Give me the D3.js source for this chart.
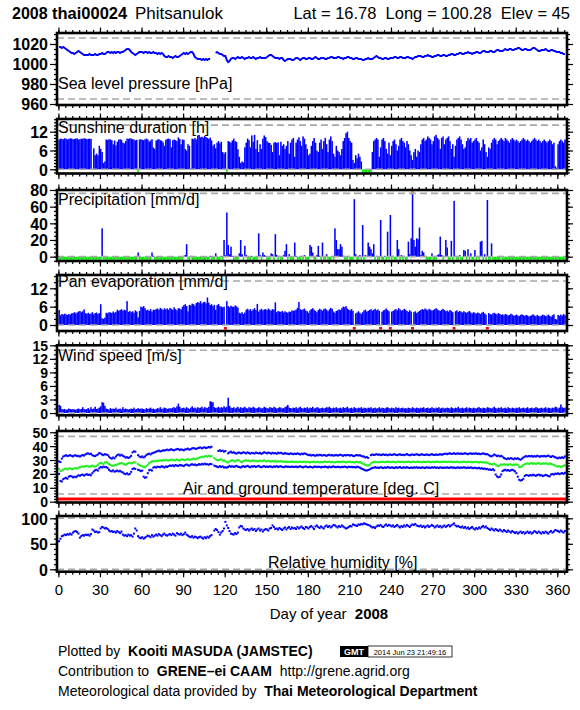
<!DOCTYPE html>
<html><head><meta charset="utf-8">
<script src="https://cdn.jsdelivr.net/npm/d3@7"></script>
<style>body{margin:0;background:#fff}svg text{font-family:"Liberation Sans",Arial,Helvetica,sans-serif}</style>
</head><body><svg id="c" width="580" height="710"></svg>
<script>
// ---------------- DATA (day of year 1..366, 2008) ----------------
const xTicks = [0,30,60,90,120,150,180,210,240,270,300,330,360];

const pressure = [
1017,1017,1016,1017,1016,1015,1014,1013,1012,1011,
1011,1010,1011,1012,1013,1012,1011,1010,1009,1009,
1009,1009,1010,1009,1009,1009,1010,1009,1009,1010,
1010,1011,1010,1010,1011,1012,1012,1011,1012,1011,
1012,1011,1012,1012,1011,1012,1012,1013,1014,1015,
1015,1014,1012,1011,1010,1009,1010,1011,1012,1012,
1012,1011,1012,1012,1011,1012,1011,1011,1012,1011,
1011,1010,1011,1010,1011,1010,1008,1007,1007,1008,
1007,1007,1006,1007,1008,1007,1007,1008,1009,1010,
1011,1010,1011,1010,1011,1012,1012,1010,1007,1006,
1005,1005,1005,1004,1005,1004,1005,1004,1005,1005,
null,null,null,1011,1012,1011,1010,1010,1009,1008,
1008,1004,1002,1003,1005,1006,1006,1005,1006,1007,
1006,1006,1007,1006,1005,1006,1006,1007,1006,1006,
1007,1006,1005,1006,1006,1007,1006,1006,1006,1006,
1007,1008,1009,1009,1008,1007,1006,1006,1006,1005,
1006,1006,1004,1003,1004,1005,1005,1005,1004,1004,
1005,1006,1006,1005,1004,1005,1006,1006,1005,1005,
1006,1006,1005,1005,1006,1007,1006,1005,1005,1006,
1006,1006,1005,1005,1006,1006,1007,1007,1006,1006,
1006,1007,1007,1006,1006,1005,1006,1006,1007,1007,
1006,1006,1005,1005,1006,1006,1005,1005,1005,1004,
1004,1005,1005,1006,1005,1005,1005,1006,1007,1008,
1007,1006,1006,1005,1005,1006,1006,1005,1005,1006,
1006,1006,1007,1007,1006,1006,1007,1007,1006,1006,
1006,1007,1007,1006,1006,1005,1006,1007,1007,1008,
1008,1008,1007,1007,1008,1008,1009,1008,1008,1007,
1007,1008,1008,1009,1009,1008,1008,1009,1009,1008,
1008,1009,1009,1010,1010,1009,1009,1010,1010,1011,
1011,1010,1010,1011,1011,1012,1011,1011,1010,1011,
1011,1012,1012,1011,1011,1012,1013,1013,1012,1012,
1012,1013,1013,1012,1012,1013,1014,1014,1013,1013,
1013,1014,1015,1014,1014,1015,1015,1014,1014,1015,
1015,1016,1016,1015,1014,1014,1015,1015,1014,1014,
1014,1015,1016,1016,1015,1014,1013,1013,1014,1014,
1014,1015,1014,1013,1013,1014,1014,1013,1013,1012,
1012,1012,1011,1011,1010,1010];

const sunshine = [
9.5,9.8,9.7,9.6,9.9,9.8,9.5,9.7,9.9,9.8,
9.6,9.7,9.8,9.9,9.5,9.6,9.8,9.7,9.9,9.8,
9.6,9.7,9.8,9.7,null,6.7,4.5,5.0,4.5,7.5,
6.5,5.5,2.0,2.5,9.5,9.4,9.6,9.5,9.3,8.0,
9.2,7.6,8.8,9.5,9.6,9.4,8.5,8.3,9.0,9.8,
9.7,9.9,9.8,9.6,9.5,9.2,9.4,0,9.5,9.6,
9.4,9.3,9.6,9.8,9.5,8.8,9.2,9.6,7.0,6.5,
9.2,9.5,9.6,9.3,9.1,8.6,7.5,9.4,9.7,9.8,
9.6,7.0,9.3,9.5,9.3,9.0,10.2,9.7,8.0,9.5,
9.4,6.5,6.0,8.0,7.5,0.3,9.8,9.6,10.0,9.5,
10.8,11.0,10.2,10.4,10.1,10.6,10.3,10.0,9.7,10.1,
9.2,7.5,8.0,6.7,8.5,9.0,8.3,8.8,5.5,5.0,
5.5,0,9.0,8.8,8.5,9.2,9.8,9.0,8.7,6.4,
4.0,2.0,2.5,2.2,7.0,8.5,9.8,9.3,7.0,10.8,
8.8,11.0,6.5,9.3,5.5,8.0,6.5,9.8,10.8,10.3,
9.0,8.5,8.4,7.8,5.5,8.5,8.7,8.4,8.6,4.5,
8.8,7.5,8.0,6.5,7.5,9.0,5.0,8.5,9.5,10.0,
4.0,8.5,9.5,10.2,9.0,7.5,10.5,9.8,8.0,6.5,
4.5,5.0,7.5,9.0,10.0,8.5,6.0,5.5,8.5,9.5,
6.5,9.0,10.0,8.0,5.5,9.5,10.5,9.0,5.0,4.0,
7.5,6.0,5.5,4.5,6.5,9.0,10.0,11.5,12.0,10.0,
9.0,8.5,3.0,2.0,4.5,3.5,5.0,4.0,2.5,0,
0,0,0,0,0,0,5.5,9.0,9.5,10.0,
9.5,4.0,7.0,9.5,10.0,9.0,6.5,5.0,8.5,4.5,
7.5,9.0,9.5,8.0,6.0,7.5,9.5,10.0,9.0,8.5,
7.0,9.0,8.0,6.0,4.5,3.0,5.5,6.5,4.0,6.0,
5.5,8.0,9.5,10.0,9.0,9.5,10.5,10.0,9.5,8.0,
9.0,10.5,11.0,10.0,9.5,6.5,10.0,10.5,8.0,9.5,
10.0,10.5,9.0,6.5,8.0,4.0,7.5,9.5,10.0,10.5,
9.5,8.0,6.5,7.0,9.0,10.0,9.5,10.0,8.5,9.0,
9.5,10.0,9.0,8.5,6.0,7.0,9.5,8.0,5.5,4.0,
7.0,6.5,8.5,9.5,10.0,9.5,8.0,9.0,9.5,10.0,
9.5,9.0,10.0,9.5,9.0,8.5,9.5,10.0,9.5,9.0,
9.5,9.0,8.5,9.0,9.5,10.0,9.5,9.0,9.5,9.0,
8.5,9.0,9.5,10.0,9.5,9.0,9.5,9.0,8.5,9.0,
9.5,9.0,8.5,9.0,9.5,9.0,8.0,8.5,1.0,0.5,
8.0,9.0,9.5,9.0,8.5,9.5];

// rainy days only (all other days: 0 mm)
const rainDays = [32,58,68,69,91,92,93,96,110,114,118,120,121,122,123,124,125,126,131,132,133,135,136,140,145,146,148,149,150,154,155,157,158,160,163,164,165,
167,171,172,176,178,182,183,184,187,188,189,191,194,198,200,201,202,203,204,205,206,210,214,215,218,220,222,223,224,225,226,227,228,230,233,236,238,240,242,245,246,248,250,253,254,255,256,257,258,259,260,261,262,263,264,265,270,274,275,276,277,279,280,281,284,286,287,290,293,294,296,298,301,303,305,306,308,310,313,320];
const rainMm = [34,5,5,1,1,2,15,1,1,4,1,20,2,53,14,3,12,1,4,20,3,13,2,1,28,2,5,2,1,4,3,27,2,1,2,7,15,
3,17,1,1,2,14,12,5,2,13,1,17,3,1,34,20,9,9,15,12,1,1,69,3,2,38,2,1,17,12,9,4,15,1,44,1,30,50,1,20,9,2,1,18,3,22,90,20,12,22,21,35,2,7,5,1,4,2,3,24,2,1,20,11,19,67,1,2,8,7,9,4,8,1,18,19,3,68,16,1];

const evaporation = [
4.9,3.2,3.6,3.4,3.7,3.5,3.3,3.6,3.4,3.8,
3.9,4.2,3.8,4.1,4.4,4.6,4.2,4.5,5.1,3.9,
3.7,4.0,3.6,3.8,4.2,3.5,3.9,4.1,3.6,3.9,
6.8,2.2,2.0,2.4,4.0,3.8,4.2,4.1,3.9,4.4,
4.0,4.3,5.0,4.6,4.9,5.2,4.7,5.0,4.8,7.8,
4.3,4.6,4.2,4.5,4.0,4.8,4.4,2.5,4.6,6.0,
5.8,6.2,5.5,4.8,5.0,4.6,5.2,4.4,5.0,4.9,
5.2,5.4,5.0,5.6,5.3,4.9,5.5,5.1,5.4,5.0,
5.6,5.3,5.0,5.8,5.2,4.8,5.5,5.4,5.1,6.0,
6.5,6.8,6.2,4.5,6.6,6.4,7.0,6.8,6.3,7.2,
7.5,7.2,7.8,7.0,7.4,7.6,7.1,9.0,7.3,6.5,
6.8,6.2,6.6,5.0,6.5,6.9,6.2,6.0,5.8,6.0,
null,7.8,6.2,5.8,6.3,6.0,5.9,6.4,6.1,5.7,
4.0,3.8,4.2,3.6,4.1,5.0,5.3,4.8,5.2,4.6,
5.1,5.5,4.9,6.9,4.4,5.0,5.3,4.8,5.1,5.2,
4.9,5.4,5.0,4.7,5.2,5.0,7.4,4.2,4.6,4.4,
4.3,4.6,4.1,4.5,4.2,4.0,4.4,4.3,4.8,4.6,
4.8,5.0,5.6,7.5,5.2,4.9,5.1,5.4,4.7,4.5,
4.0,4.8,5.2,5.5,5.0,4.6,4.2,4.9,5.3,5.0,
4.7,5.2,5.4,5.0,4.5,5.1,5.6,5.3,4.4,4.0,
4.6,4.8,5.1,4.9,5.5,6.0,5.8,6.2,5.4,5.0,
4.8,5.2,4.6,null,3.8,4.1,4.5,4.0,3.6,4.2,
4.8,5.0,4.4,4.6,4.9,5.2,4.7,5.0,5.3,4.8,
5.1,4.6,null,4.3,4.8,5.0,5.4,4.9,4.5,null,
4.4,4.6,5.0,5.2,4.8,5.5,5.1,4.7,4.9,5.3,
5.0,4.6,4.3,4.8,4.4,null,4.2,4.5,3.9,4.3,
4.6,4.9,5.2,5.0,5.4,5.1,4.8,5.3,5.0,4.7,
4.9,5.2,5.5,5.1,4.8,4.6,5.0,5.3,4.9,4.5,
4.7,4.4,4.9,4.6,4.2,null,4.5,4.8,4.3,4.6,
4.4,4.1,4.5,4.2,4.0,4.3,4.6,4.1,3.8,4.2,
4.0,3.7,4.1,3.9,3.6,4.0,4.3,3.8,3.4,null,
3.9,3.6,3.4,3.8,4.0,3.7,3.5,3.9,3.6,3.3,
3.5,3.2,3.6,3.4,3.1,3.3,3.7,3.4,3.0,3.2,
3.4,3.1,2.9,3.3,3.5,3.2,3.0,3.3,3.1,2.8,
3.0,3.2,3.5,3.1,2.9,3.3,3.0,2.8,3.1,3.4,
3.2,2.9,3.1,3.4,3.0,2.7,3.2,3.5,2.0,1.8,
3.3,3.0,3.4,3.1,3.6,3.2];

const wind = [
1.8,1.6,0.9,0.8,0.9,0.7,0.8,1.0,0.9,0.8,
0.9,0.8,0.7,0.9,1.0,0.8,0.9,1.3,0.9,0.8,
0.9,1.1,0.8,1.3,0.9,1.0,1.4,0.9,1.0,1.2,
1.5,2.4,2.3,1.6,1.0,0.9,0.8,1.1,0.9,1.0,
0.9,1.2,0.8,0.9,1.0,0.8,1.3,0.9,1.0,0.9,
0.8,0.9,1.0,0.9,1.2,0.8,0.9,1.1,0.9,1.0,
1.0,0.9,0.8,1.1,0.9,1.0,1.2,0.9,1.0,0.8,
0.9,1.1,1.0,1.3,0.9,1.0,1.2,1.1,0.9,1.0,
1.1,1.0,1.2,1.3,1.1,1.5,2.1,1.4,1.0,1.1,
1.2,1.0,1.3,1.1,0.9,1.2,1.5,1.1,1.2,1.0,
1.3,1.1,1.2,1.4,1.0,1.3,1.2,1.1,1.4,2.6,
2.5,2.4,1.3,1.1,1.2,1.4,1.1,1.3,1.2,1.5,
1.2,1.4,3.4,1.6,1.2,1.1,1.3,1.0,1.2,1.4,
1.0,1.3,1.1,1.2,1.4,1.1,1.0,1.3,1.2,1.1,
1.4,1.2,1.0,1.1,1.3,1.2,1.0,1.1,1.4,1.2,
1.1,1.0,1.3,1.2,1.1,1.4,1.2,1.0,1.1,1.3,
1.2,1.0,1.1,1.3,1.5,1.8,1.2,1.1,1.0,1.2,
1.1,1.3,1.0,1.2,1.4,1.1,1.0,1.2,1.1,1.3,
1.0,1.2,1.1,1.4,1.0,1.1,1.3,1.2,1.0,1.1,
1.2,1.0,1.1,1.3,1.2,1.4,1.1,1.0,1.2,1.1,
1.3,1.0,1.1,1.2,1.0,1.3,1.1,1.2,1.4,1.0,
1.1,1.2,1.0,1.3,1.1,1.0,1.2,1.1,1.3,1.0,
1.2,1.1,1.0,1.2,1.1,1.3,1.0,1.1,1.2,1.0,
1.1,1.3,1.0,1.2,1.1,1.0,1.2,1.3,1.1,1.0,
1.2,1.1,1.0,1.3,1.1,1.2,1.0,1.1,1.2,1.0,
1.1,1.0,1.2,1.1,1.0,1.3,1.1,1.0,1.2,1.1,
1.0,1.2,1.1,1.3,1.0,1.1,1.2,1.0,1.1,1.3,
1.1,1.0,1.2,1.1,1.3,1.0,1.1,1.2,1.0,1.1,
1.2,1.1,1.0,1.3,1.1,1.0,1.2,1.1,1.4,1.0,
1.1,1.2,1.0,1.1,1.3,1.0,1.2,1.1,1.0,1.2,
1.1,1.0,1.2,1.3,1.1,1.0,1.2,1.1,1.0,1.3,
1.2,1.1,1.0,1.2,1.4,1.1,1.0,1.2,1.1,1.3,
1.0,1.1,1.2,1.0,1.3,1.1,1.0,1.2,1.1,1.0,
1.2,1.1,1.3,1.0,1.1,1.2,1.0,1.1,1.3,1.0,
1.1,1.2,1.0,1.1,1.3,1.2,1.0,1.1,1.2,1.0,
1.1,1.3,1.0,1.2,1.1,1.0,1.2,1.1,1.4,1.3,
1.0,1.2,1.9,1.3,1.1,1.2];

const tmax = [
29.0,28.5,31.0,32.5,33.0,33.4,32.8,33.2,33.5,33.0,
32.6,33.2,33.4,32.8,33.0,32.5,33.1,33.6,33.2,34.0,
34.6,34.8,34.2,34.5,33.5,33.0,32.8,33.4,34.0,35.0,
34.6,34.0,33.5,34.2,34.0,33.6,32.5,31.5,31.0,31.8,
31.2,32.5,33.5,34.0,33.2,33.8,33.0,32.5,31.8,32.0,
31.5,32.0,33.0,35.5,36.2,36.0,null,33.5,32.5,32.0,
32.6,31.8,32.5,33.5,34.2,34.6,34.0,34.8,35.2,35.5,
36.0,36.4,36.8,36.2,36.5,37.0,36.8,37.2,37.5,37.0,
37.4,37.8,37.2,37.0,37.5,37.8,38.0,37.2,37.6,37.4,
37.0,37.6,37.8,38.2,37.5,37.8,38.4,38.6,38.2,38.0,
38.5,38.8,39.0,38.4,38.8,39.2,38.6,38.9,39.4,39.0,
39.6,null,null,null,null,36.5,37.0,36.4,36.8,36.0,
36.5,null,34.8,35.5,36.0,35.2,35.6,35.0,34.6,35.2,
35.4,34.8,35.0,35.6,35.2,34.8,35.5,35.0,34.6,35.2,
35.0,34.6,35.4,35.0,34.8,35.2,34.4,35.0,35.6,35.2,
34.8,35.4,35.0,34.6,35.2,34.8,35.0,34.5,35.3,34.9,
35.2,34.8,34.4,35.0,34.6,34.5,34.2,34.8,34.5,34.2,
34.6,34.3,34.8,34.4,34.0,34.6,34.2,34.8,34.4,34.0,
33.5,33.8,33.2,33.6,33.4,33.0,33.7,33.3,33.8,33.5,
33.2,33.6,33.4,33.0,33.5,33.8,33.3,33.6,33.1,33.4,
33.7,33.2,33.5,33.8,33.4,33.0,33.6,33.3,33.7,33.5,
33.2,33.6,33.0,32.8,33.4,33.6,33.2,33.5,33.0,32.6,
32.5,31.8,32.2,31.5,null,33.5,34.0,33.6,33.8,34.2,
33.8,34.0,33.5,33.8,34.1,33.6,33.9,33.4,33.8,34.0,
33.6,33.9,34.2,33.7,33.5,33.9,34.1,33.6,33.8,33.5,
33.9,34.2,33.7,33.4,33.8,34.0,33.6,33.9,34.2,33.8,
33.5,33.9,34.1,33.7,33.6,34.0,33.8,33.5,33.9,34.2,
33.8,33.6,34.0,33.7,33.9,34.2,33.8,34.1,34.4,34.6,
34.2,34.6,34.8,34.4,34.5,34.9,34.3,34.6,34.8,34.4,
34.7,34.3,34.6,34.9,34.5,34.2,34.6,34.8,34.4,34.7,
34.5,34.8,34.3,34.6,34.2,34.5,34.8,34.4,34.1,34.3,
33.5,33.0,32.6,33.2,34.0,33.4,32.8,33.2,32.6,33.0,
32.4,31.5,31.0,30.6,31.2,30.8,31.4,31.0,30.5,31.2,
30.8,31.3,30.6,30.2,31.0,31.8,32.4,32.8,32.5,32.9,
32.6,33.0,32.4,32.8,32.5,33.1,32.7,32.4,32.9,32.6,
33.0,32.5,32.8,33.2,32.6,32.2,32.9,32.4,32.0,31.6,
31.2,31.8,31.4,32.0,31.5,32.6];

const tmean = [
23.5,22.0,22.5,23.0,23.6,23.8,23.2,23.9,24.0,23.5,
23.4,24.0,24.2,23.8,24.5,24.8,25.0,25.4,25.2,25.6,
25.8,25.4,25.0,25.6,26.0,25.5,25.2,25.8,26.5,27.5,
28.0,27.6,27.0,28.2,28.5,28.0,27.2,26.5,26.0,25.8,
26.2,26.5,26.8,27.2,27.6,27.8,27.5,27.0,26.5,27.2,
27.8,28.0,27.5,27.8,28.4,28.2,null,27.0,26.5,25.8,
25.5,25.0,24.8,25.6,26.5,27.8,28.4,29.0,29.3,29.0,
29.5,29.2,29.6,29.8,29.4,30.0,29.6,30.2,29.8,29.6,
30.0,30.3,29.8,30.1,29.7,30.4,30.0,29.6,30.2,30.5,
30.0,29.8,30.3,30.6,30.1,30.4,30.8,31.0,30.5,30.9,
31.2,31.6,32.0,32.4,32.0,32.6,32.8,32.4,33.0,32.6,
32.8,null,31.5,30.5,30.0,29.8,30.2,30.6,29.5,29.8,
29.2,28.5,28.2,29.0,29.5,29.8,29.4,29.0,29.6,30.0,
29.6,28.8,28.4,29.2,29.6,29.8,29.4,29.6,29.0,29.4,
29.8,29.2,29.5,29.0,29.3,29.6,29.1,29.4,29.8,29.2,
29.0,29.5,29.2,28.8,29.3,29.0,29.4,28.7,29.1,28.9,
29.2,28.8,29.0,28.6,28.9,28.5,28.8,28.6,29.0,28.7,
28.5,28.8,28.4,28.7,28.9,28.5,28.6,28.8,28.4,28.7,
28.6,28.3,28.7,28.5,28.9,28.4,28.6,28.8,28.3,28.6,
28.4,28.7,28.9,28.5,28.6,28.8,28.4,28.7,28.5,28.3,
28.6,28.8,28.4,28.7,28.5,28.9,28.6,28.3,28.7,28.5,
28.8,28.4,28.6,28.2,28.5,28.7,28.3,28.6,28.0,27.5,
27.0,26.5,26.2,26.0,26.4,27.5,28.2,28.5,28.7,28.4,
28.6,28.3,28.7,28.5,28.8,28.4,28.6,28.9,28.5,28.7,
28.4,28.8,28.6,28.3,28.7,28.9,28.5,28.6,28.8,28.4,
28.7,28.5,28.9,28.6,28.4,28.7,28.8,28.5,28.6,28.9,
28.5,28.7,28.4,28.8,28.6,28.5,28.9,28.7,28.4,28.6,
28.8,28.5,28.7,28.9,28.6,28.4,28.8,28.6,28.9,28.7,
28.5,28.8,28.6,28.9,28.4,28.7,28.5,28.8,28.6,28.3,
28.7,28.5,28.9,28.6,28.4,28.8,28.5,28.7,28.3,28.6,
28.4,28.7,28.5,28.2,28.6,28.3,28.5,28.1,28.4,28.0,
27.5,27.2,26.8,27.0,27.4,26.6,26.0,25.5,26.2,26.8,
26.5,27.0,26.6,26.8,26.4,27.0,26.7,26.3,26.8,26.5,
26.9,26.4,25.0,24.8,25.5,26.4,27.0,27.3,27.6,27.2,
27.5,27.8,27.3,27.6,27.2,27.5,27.8,27.4,27.1,27.6,
27.3,27.7,27.4,27.0,27.5,27.2,26.8,26.5,26.0,25.5,
25.2,25.6,25.0,25.4,25.8,26.2];

const tmin = [
20.0,15.0,14.5,16.2,16.8,17.2,16.5,18.0,18.5,18.2,
17.5,18.0,17.6,18.2,19.0,18.6,19.2,19.5,18.8,19.4,
19.8,19.2,19.6,19.0,20.5,21.8,22.6,23.0,22.4,24.0,
25.0,24.6,25.2,24.8,25.0,24.2,23.0,22.2,21.8,22.5,
21.6,22.0,22.4,21.8,22.2,21.5,21.0,20.2,19.8,20.4,
19.6,20.0,21.5,23.5,24.0,23.6,null,23.0,22.6,22.0,
22.4,18.0,17.2,17.6,20.5,22.6,23.0,22.4,24.5,25.0,
24.6,25.2,25.0,24.8,25.5,25.2,24.6,25.4,25.0,25.6,
26.0,25.8,26.2,25.5,26.4,26.0,25.7,26.5,26.2,26.0,
25.6,26.4,26.8,26.2,26.0,26.6,27.0,26.4,26.8,26.2,
26.5,27.0,26.6,27.2,26.8,27.4,26.9,27.0,26.6,27.2,
27.0,null,26.0,25.5,25.2,24.8,25.6,25.0,25.4,24.6,
24.8,24.5,25.0,25.8,25.2,25.5,25.0,25.4,25.8,25.2,
25.0,24.6,25.2,25.6,25.0,25.4,25.8,25.2,24.8,25.5,
25.2,25.6,25.0,25.4,25.8,25.1,24.8,25.3,25.6,25.0,
25.3,25.0,25.5,25.2,24.8,25.4,25.1,25.6,25.0,25.3,
25.5,25.0,24.8,25.2,25.4,25.0,25.2,24.9,25.3,25.1,
25.0,25.3,24.8,25.2,25.5,25.0,24.7,25.1,25.4,25.0,
24.8,25.2,25.0,24.6,25.1,25.3,24.9,25.2,25.0,24.7,
25.1,24.9,25.3,25.0,24.6,25.2,24.8,25.1,25.4,25.0,
24.8,25.2,25.0,24.7,25.1,24.9,25.3,25.0,24.6,25.2,
24.9,25.1,24.8,25.0,24.6,25.2,24.9,24.5,24.0,23.5,
23.0,22.6,22.4,22.8,23.2,23.8,24.2,24.5,24.8,24.4,
24.6,24.3,24.8,24.5,24.2,24.7,24.4,24.9,24.6,24.3,
24.7,24.5,24.2,24.8,24.4,24.6,24.9,24.3,24.5,24.7,
24.4,24.8,24.5,24.2,24.6,24.3,24.7,24.5,24.8,24.4,
24.6,24.3,24.7,24.5,24.2,24.8,24.4,24.6,24.3,24.7,
24.5,24.8,24.4,24.6,24.2,24.7,24.5,24.3,24.6,24.4,
24.7,24.3,24.5,24.8,24.4,24.6,24.2,24.5,24.7,24.3,
24.6,24.4,24.8,24.5,24.2,24.6,24.3,24.7,24.4,24.1,
24.5,24.2,24.0,24.4,23.8,24.1,23.6,23.9,23.4,23.6,
23.0,23.2,22.8,23.4,22.6,19.5,18.2,17.6,18.0,19.6,
22.0,22.6,23.0,22.4,22.8,22.2,22.6,23.0,22.5,21.8,
20.5,18.0,15.8,15.2,15.6,16.5,18.5,19.2,19.0,18.6,
19.2,18.8,19.4,19.0,18.6,19.2,19.5,18.9,19.1,18.4,
18.8,19.3,19.0,18.5,18.2,19.6,20.0,19.5,20.2,20.0,
20.4,19.8,20.2,20.6,20.0,20.8];

const humidity = [
55,60,65,66,68,67,69,68,70,68,
72,74,75,73,70,62,65,67,66,68,
67,68,66,69,78,76,73,74,72,73,
80,83,82,80,81,79,76,74,75,73,
74,72,75,73,71,74,68,66,67,65,
68,66,67,64,70,80,76,65,62,61,
63,60,62,64,66,65,63,67,64,66,
68,66,69,67,65,68,70,67,66,68,
69,67,70,68,66,71,69,68,70,67,
69,72,68,66,64,63,65,62,64,63,
61,63,64,62,60,63,61,64,62,65,
67,null,76,79,77,73,68,72,75,80,
93,86,81,75,70,69,68,71,69,72,
82,85,84,80,78,77,79,76,78,80,
77,79,75,78,80,76,78,74,77,79,
78,76,80,81,86,83,79,80,78,81,
79,77,80,82,78,81,83,79,82,80,
81,79,83,80,82,84,81,79,83,82,
80,83,85,82,79,84,86,83,81,84,
82,80,84,86,83,85,82,84,87,86,
84,82,85,83,86,84,82,80,81,83,
85,84,88,87,86,85,88,87,89,88,
90,89,88,87,86,84,82,83,81,84,
86,85,87,84,83,86,88,85,87,86,
84,86,83,85,87,84,82,85,83,86,
84,87,85,83,86,88,87,89,86,85,
84,86,83,85,82,84,86,83,85,87,
85,82,84,86,83,85,82,84,86,83,
85,87,84,86,88,90,86,84,85,83,
82,84,81,83,80,82,79,81,83,80,
78,81,79,82,80,83,85,82,84,81,
79,77,80,78,76,79,77,75,78,76,
74,77,75,73,76,74,72,75,73,71,
73,70,72,74,71,73,70,72,74,71,
73,70,72,75,73,71,74,72,70,73,
71,74,72,70,73,75,72,74,77,76,
75,73,76,74,72,75];

// ---------------- DRAWING ----------------
const svg = d3.select('#c');
const X0 = 57, X1 = 567;
const x = d3.scaleLinear().domain([-1, 367]).range([X0, X1]);
const days = d3.range(1, 367);
const BLUE = '#0000ff', GREEN = '#00ee00', GRAY = '#a8a8a8';
const FONT = '"Liberation Sans",Arial,Helvetica,sans-serif';

const rain = days.map(() => 0);
rainDays.forEach((d, i) => { rain[d - 1] = rainMm[i]; });

function makePanel(cfg) {
  const y = d3.scaleLinear().domain(cfg.dom).range([cfg.bottom, cfg.top]);
  const g = svg.append('g');
  const clipId = 'clip' + cfg.id;
  svg.append('clipPath').attr('id', clipId).append('rect')
    .attr('x', X0).attr('y', cfg.top).attr('width', X1 - X0).attr('height', cfg.bottom - cfg.top);
  const plot = g.append('g').attr('clip-path', `url(#${clipId})`);
  return { y, g, plot, cfg };
}
function bars(P, vals, clipMax) {
  const y = P.y;
  P.plot.selectAll(null).data(days.filter(d => vals[d - 1] != null && vals[d - 1] > 0)).join('rect')
    .attr('x', d => x(d - 1)).attr('width', d => x(d) - x(d - 1) + 0.15)
    .attr('y', d => y(Math.min(vals[d - 1], clipMax)))
    .attr('height', d => y(0) - y(Math.min(vals[d - 1], clipMax)))
    .attr('fill', BLUE);
}
function zeroMarks(P, vals, color) {
  const y = P.y;
  P.plot.selectAll(null).data(days.filter(d => vals[d - 1] === 0)).join('rect')
    .attr('x', d => x(d - 1)).attr('width', d => x(d) - x(d - 1) + 0.15)
    .attr('y', y(0)).attr('height', 3).attr('fill', color);
}
function missMarks(P, vals, color, yOff) {
  const y = P.y;
  P.plot.selectAll(null).data(days.filter(d => vals[d - 1] == null)).join('rect')
    .attr('x', d => x(d - 0.5) - 1.5).attr('width', 3)
    .attr('y', y(0) + yOff).attr('height', 2.5).attr('fill', color);
}
function dots(P, vals, color) {
  const y = P.y;
  P.plot.selectAll(null).data(days.filter(d => vals[d - 1] != null)).join('rect')
    .attr('x', d => x(d - 0.5) - 1).attr('width', 2)
    .attr('y', d => y(vals[d - 1]) - 1).attr('height', 2)
    .attr('fill', color);
}
function dashes(P, vals) {
  vals.forEach(v => P.g.append('line').attr('x1', X0).attr('x2', X1)
    .attr('y1', P.y(v)).attr('y2', P.y(v))
    .attr('stroke', GRAY).attr('stroke-width', 1.6).attr('stroke-dasharray', '7,4'));
}
function frameAxes(P, major, minorStep, xlabels, lblSize) {
  const { y, g, cfg } = P;
  const minor = d3.range(Math.ceil(cfg.dom[0] / minorStep) * minorStep, cfg.dom[1] + 1e-9, minorStep);
  const styl = s => { s.select('.domain').remove(); s.selectAll('line').attr('stroke', '#000').attr('stroke-width', 1.2); };
  g.append('g').attr('transform', `translate(${X0},0)`).call(d3.axisLeft(y).tickValues(minor).tickSize(3).tickFormat('')).call(styl);
  g.append('g').attr('transform', `translate(${X1},0)`).call(d3.axisRight(y).tickValues(minor).tickSize(3).tickFormat('')).call(styl);
  const la = g.append('g').attr('transform', `translate(${X0},0)`)
    .call(d3.axisLeft(y).tickValues(major).tickSize(7).tickPadding(2).tickFormat(d3.format('d'))).call(styl);
  la.selectAll('text').attr('font-size', lblSize || 16).attr('font-weight', 'bold').attr('fill', '#000')
    .attr('font-family', FONT).attr('dy', '0.36em');
  g.append('g').attr('transform', `translate(${X1},0)`).call(d3.axisRight(y).tickValues(major).tickSize(6).tickFormat('')).call(styl);
  const xMinor = d3.range(0, 367, 5);
  g.append('g').attr('transform', `translate(0,${cfg.top})`).call(d3.axisTop(x).tickValues(xMinor).tickSize(3).tickFormat('')).call(styl);
  g.append('g').attr('transform', `translate(0,${cfg.top})`).call(d3.axisTop(x).tickValues(xTicks).tickSize(5.5).tickFormat('')).call(styl);
  g.append('g').attr('transform', `translate(0,${cfg.bottom})`).call(d3.axisBottom(x).tickValues(xMinor).tickSize(3).tickFormat('')).call(styl);
  const bx = g.append('g').attr('transform', `translate(0,${cfg.bottom})`)
    .call(d3.axisBottom(x).tickValues(xTicks).tickSize(5.5).tickPadding(7).tickFormat(xlabels ? d3.format('d') : '')).call(styl);
  bx.selectAll('text').attr('font-size', 15).attr('fill', '#000').attr('font-family', FONT);
  g.append('rect').attr('x', X0).attr('y', cfg.top).attr('width', X1 - X0).attr('height', cfg.bottom - cfg.top)
    .attr('fill', 'none').attr('stroke', '#000').attr('stroke-width', 2.6);
}
function title(P, txt, tx, ty) {
  P.g.append('text').attr('x', tx).attr('y', ty).attr('font-size', 16).attr('fill', '#000').text(txt);
}

// Panel 1: pressure
const P1 = makePanel({ id: 1, top: 33, bottom: 105, dom: [959, 1031] });
P1.plot.append('path').datum(days).attr('fill', 'none').attr('stroke', BLUE).attr('stroke-width', 2)
  .attr('d', d3.line().defined(d => pressure[d - 1] != null).x(d => x(d - 0.5)).y(d => P1.y(pressure[d - 1])));
dashes(P1, [965, 1026]);
title(P1, 'Sea level pressure [hPa]', 58, 89);
frameAxes(P1, [960, 980, 1000, 1020], 5, false);

// Panel 2: sunshine
const P2 = makePanel({ id: 2, top: 119, bottom: 173.5, dom: [-1.34, 16.05] });
bars(P2, sunshine, 14.1);
zeroMarks(P2, sunshine, GREEN);
dashes(P2, [0, 14.1]);
title(P2, 'Sunshine duration [h]', 58, 133);
frameAxes(P2, [0, 6, 12], 1, false);

// Panel 3: precipitation
const P3 = makePanel({ id: 3, top: 190, bottom: 261, dom: [-5.2, 80] });
bars(P3, rain, 76);
zeroMarks(P3, rain, GREEN);
dashes(P3, [0, 76]);
P3.plot.selectAll(null).data(days.filter(d => rain[d - 1] > 76)).join('rect')
  .attr('x', d => x(d - 0.5) - 1.5).attr('width', 3).attr('y', P3.y(78) - 1).attr('height', 3).attr('fill', '#ff9900');
title(P3, 'Precipitation [mm/d]', 58, 205);
frameAxes(P3, [0, 20, 40, 60, 80], 5, false);

// Panel 4: pan evaporation
const P4 = makePanel({ id: 4, top: 275, bottom: 331, dom: [-1.96, 16.35] });
bars(P4, evaporation, 14.4);
missMarks(P4, evaporation, '#ff0000', 2);
dashes(P4, [0, 14.4]);
title(P4, 'Pan evaporation [mm/d]', 58, 287);
frameAxes(P4, [0, 6, 12], 2, false);

// Panel 5: wind
const P5 = makePanel({ id: 5, top: 345.3, bottom: 415.3, dom: [-0.5, 15] });
bars(P5, wind, 13.9);
dashes(P5, [0, 13.9]);
title(P5, 'Wind speed [m/s]', 58, 361);
frameAxes(P5, [0, 3, 6, 9, 12, 15], 1, false, 14);

// Panel 6: temperature
const P6 = makePanel({ id: 6, top: 431, bottom: 502.5, dom: [-0.6, 50.9] });
dashes(P6, [5.5, 47]);
P6.plot.append('line').attr('x1', X0).attr('x2', X1).attr('y1', P6.y(1.9)).attr('y2', P6.y(1.9))
  .attr('stroke', '#ff0000').attr('stroke-width', 3);
dots(P6, tmax, BLUE);
dots(P6, tmin, BLUE);
dots(P6, tmean, '#22ee22');
title(P6, 'Air and ground temperature [deg. C]', 183, 494);
frameAxes(P6, [0, 10, 20, 30, 40, 50], 2, false, 14);

// Panel 7: humidity
const P7 = makePanel({ id: 7, top: 516, bottom: 571.7, dom: [-4.7, 104.5] });
dashes(P7, [0, 100]);
dots(P7, humidity, BLUE);
title(P7, 'Relative humidity [%]', 268, 568);
frameAxes(P7, [0, 50, 100], 10, true);

// Header
svg.append('text').attr('x', 12).attr('y', 19).attr('font-size', 16).attr('font-weight', 'bold').text('2008');
svg.append('text').attr('x', 52).attr('y', 19).attr('font-size', 16.5).attr('font-weight', 'bold').text('thai00024');
svg.append('text').attr('x', 135).attr('y', 19).attr('font-size', 17).text('Phitsanulok');
svg.append('text').attr('x', 570).attr('y', 19).attr('text-anchor', 'end').attr('font-size', 16.5)
  .style('white-space', 'pre').text('Lat = 16.78  Long = 100.28  Elev = 45');

// X axis title
const xt = svg.append('text').attr('x', 329).attr('y', 619).attr('text-anchor', 'middle').attr('font-size', 15)
  .style('white-space', 'pre');
xt.append('tspan').text('Day of year  ');
xt.append('tspan').attr('font-weight', 'bold').text('2008');

// Footer
function footer(yb, a, b, c) {
  const t = svg.append('text').attr('x', 58).attr('y', yb).attr('font-size', 14).style('white-space', 'pre').attr('fill', '#000');
  t.append('tspan').text(a);
  t.append('tspan').attr('font-weight', 'bold').text(b);
  if (c) t.append('tspan').text(c);
}
footer(656, 'Plotted by  ', 'Kooiti MASUDA (JAMSTEC)');
footer(676, 'Contribution to  ', 'GRENE\u2013ei CAAM', '  http://grene.agrid.org');
footer(696, 'Meteorological data provided by  ', 'Thai Meteorological Department');
svg.append('rect').attr('x', 340).attr('y', 646).attr('width', 28).attr('height', 11).attr('fill', '#000');
svg.append('text').attr('x', 354).attr('y', 655).attr('text-anchor', 'middle').attr('font-size', 9)
  .attr('font-weight', 'bold').attr('fill', '#fff').text('GMT');
svg.append('rect').attr('x', 368).attr('y', 646).attr('width', 84).attr('height', 11)
  .attr('fill', '#fff').attr('stroke', '#000').attr('stroke-width', 0.8);
svg.append('text').attr('x', 410).attr('y', 654.5).attr('text-anchor', 'middle').attr('font-size', 7.5)
  .attr('fill', '#000').text('2014 Jun 23 21:49:16');
</script></body></html>
